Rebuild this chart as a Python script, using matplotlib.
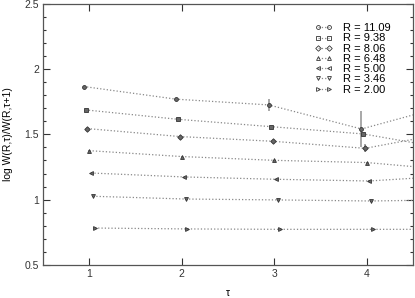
import numpy as np
import matplotlib
matplotlib.use('Agg')
import matplotlib.pyplot as plt
import matplotlib.ticker as mticker

### data
tau = [1, 2, 3, 4, 5]
radii = ['11.09', '9.38', '8.06', '6.48', '5.00', '3.46', '2.00']
offsets = [-0.06, -0.04, -0.02, 0.0, 0.02, 0.04, 0.06]
markers = ['o', 's', 'D', '^', '<', 'v', '>']

r1109 = [1.866, 1.769, 1.725, 1.541, 1.734]
r938 = [1.687, 1.615, 1.559, 1.503, 1.379]
r806 = [1.544, 1.483, 1.447, 1.393, 1.526]
r648 = [1.375, 1.330, 1.301, 1.284, 1.222]
r500 = [1.204, 1.174, 1.156, 1.143, 1.187]
r346 = [1.026, 1.005, 0.998, 0.990, 1.000]
r200 = [0.783, 0.776, 0.773, 0.773, 0.773]

e1109 = [0.005, 0.005, 0.043, 0.140, 0.0]
e938 = [0.005, 0.005, 0.005, 0.010, 0.0]
e806 = [0.005, 0.005, 0.005, 0.030, 0.0]
e648 = [0.003, 0.003, 0.003, 0.005, 0.0]
e500 = [0.003, 0.003, 0.003, 0.005, 0.0]
e346 = [0.003, 0.003, 0.003, 0.005, 0.0]
e200 = [0.002, 0.002, 0.002, 0.002, 0.0]

vals = [r1109, r938, r806, r648, r500, r346, r200]
errs = [e1109, e938, e806, e648, e500, e346, e200]

plt.rcParams['font.family'] = ['Liberation Sans', 'DejaVu Sans']

fig = plt.figure(figsize=(4.15, 2.98), dpi=100)
ax = fig.add_axes([0.1036, 0.1107, 0.8924, 0.877])

for j in range(len(radii)):
    x = np.array(tau) + offsets[j]
    ax.errorbar(x, vals[j], yerr=errs[j], fmt='none', ecolor='#999999', elinewidth=1.2, capsize=0, zorder=2)
    ax.plot(x, vals[j], linestyle=':', color='#888888', linewidth=0.9,
            marker=markers[j], markersize=2.8, markerfacecolor='#666666',
            markeredgecolor='#333333', markeredgewidth=0.6,
            label=f'R = {radii[j]}', zorder=3)

ax.set_xlim(0.5, 4.5)
ax.set_ylim(0.5, 2.5)
ax.xaxis.set_major_locator(mticker.FixedLocator([1, 2, 3, 4]))
ax.yaxis.set_major_locator(mticker.MultipleLocator(0.5))
ax.yaxis.set_minor_locator(mticker.MultipleLocator(0.1))
ax.yaxis.set_major_formatter(mticker.FuncFormatter(lambda v, p: f'{v:g}'))
ax.tick_params(which='both', direction='in', top=True, right=True, labelsize=7.5, colors='#333333', pad=3)
ax.tick_params(which='major', length=5, width=0.8)
ax.tick_params(which='minor', length=2.5, width=0.8)
for s in ax.spines.values():
    s.set_color('#555555')
    s.set_linewidth(0.9)

ax.set_xlabel('τ', fontsize=7.5, labelpad=6)
ax.set_ylabel('log W(R,τ)/W(R,τ+1)', fontsize=7.5, labelpad=8)

leg = ax.legend(loc='upper right', bbox_to_anchor=(0.96, 0.955), frameon=False, numpoints=2,
                fontsize=8, handlelength=1.6, handletextpad=1.0, labelspacing=0.02,
                borderpad=0.2)
for h in leg.legend_handles:
    h.set_markerfacecolor('none')

plt.savefig('out.png', dpi=100)
plt.close(fig)
